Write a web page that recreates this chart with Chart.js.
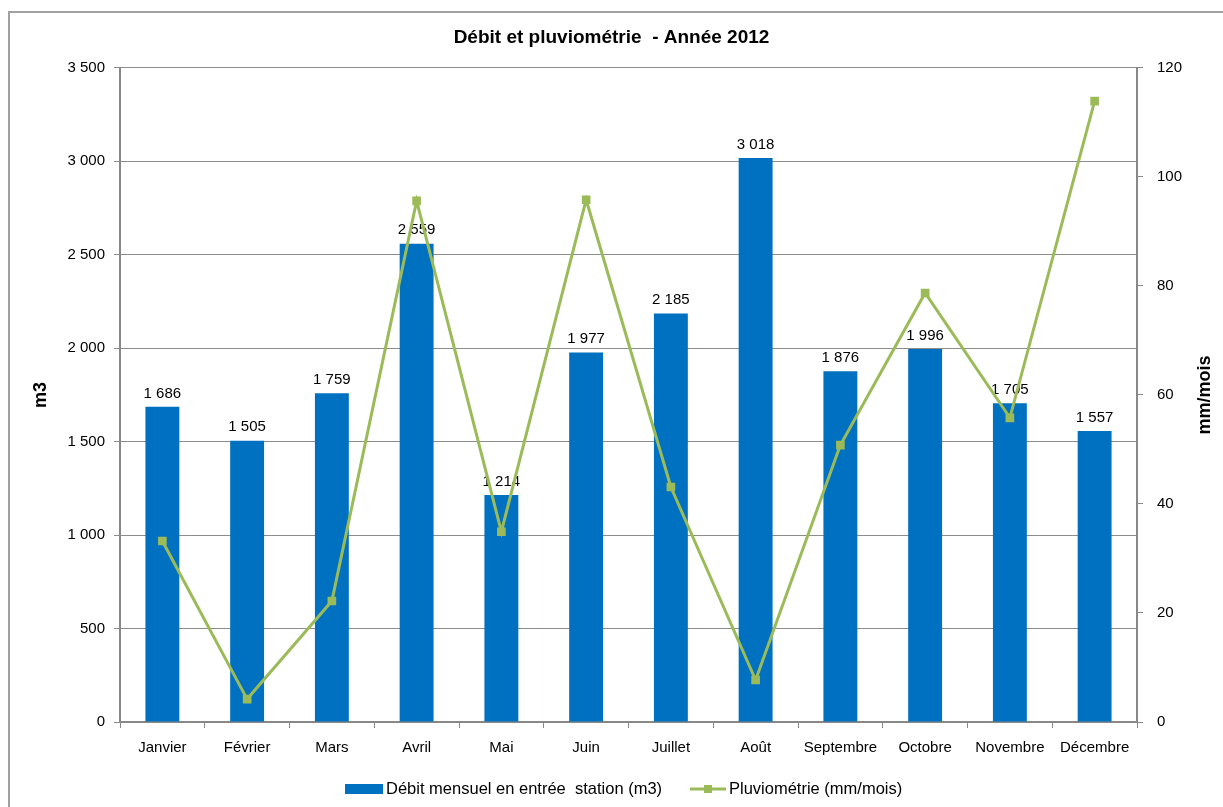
<!DOCTYPE html>
<html>
<head>
<meta charset="utf-8">
<script src="https://cdn.jsdelivr.net/npm/chart.js@4/dist/chart.umd.min.js"></script>
<style>
    body { margin: 0; background: #fff; }
    #wrap { position: absolute; left: 0; top: 0; width: 1223px; height: 807px; }
    #frame { position: absolute; left: 8px; top: 11px; width: 1230px; height: 820px; border-left: 2px solid #a0a0a0; border-top: 2px solid #a0a0a0; }
    canvas { position: absolute; left: 0; top: 0; }
</style>
</head>
<body>
<div id="wrap">
    <div id="frame"></div>
    <canvas id="chart" width="1223" height="807"></canvas>
</div>
<script>
const months = ["Janvier", "Février", "Mars", "Avril", "Mai", "Juin", "Juillet", "Août", "Septembre", "Octobre", "Novembre", "Décembre"];
const debit = [1686, 1505, 1759, 2559, 1214, 1977, 2185, 3018, 1876, 1996, 1705, 1557];
const pluvio = [33.2, 4.2, 22.2, 95.6, 34.9, 95.8, 43.1, 7.7, 50.8, 78.7, 55.8, 113.9];

const FONT = "'Liberation Sans', Arial, sans-serif";

function fmt(v) {
    return String(v).replace(/\B(?=(\d{3})+(?!\d))/g, " ");
}

// value labels above the bars
const barLabels = {
    id: "barLabels",
    afterDatasetDraw(chart, args) {
        if (args.index !== 0) return;
        const ctx = chart.ctx;
        ctx.save();
        ctx.font = "15px " + FONT;
        ctx.fillStyle = "#000";
        ctx.textAlign = "center";
        ctx.textBaseline = "bottom";
        args.meta.data.forEach((bar, i) => {
            ctx.fillText(fmt(debit[i]), bar.x, bar.y - 6);
        });
        ctx.restore();
    }
};

// axis titles + legend
const extras = {
    id: "extras",
    afterDraw(chart) {
        const ctx = chart.ctx;
        const area = chart.chartArea;
        const midY = (area.top + area.bottom) / 2;
        ctx.save();
        ctx.font = "bold 18px " + FONT;
        ctx.fillStyle = "#000";
        ctx.textAlign = "center";
        ctx.textBaseline = "middle";
        [[41, "m3"], [1205, "mm/mois"]].forEach(([x, t]) => {
            ctx.save();
            ctx.translate(x, midY);
            ctx.rotate(-Math.PI / 2);
            ctx.fillText(t, 0, 0);
            ctx.restore();
        });

        // legend
        const ly = 789;
        ctx.font = "16.5px " + FONT;
        ctx.textAlign = "left";
        ctx.fillStyle = "#0070C0";
        ctx.fillRect(345, ly - 5, 38, 10);
        ctx.fillStyle = "#000";
        ctx.fillText(chart.data.datasets[0].label, 386, ly);

        ctx.strokeStyle = "#9BBB59";
        ctx.lineWidth = 3;
        ctx.beginPath();
        ctx.moveTo(690, ly);
        ctx.lineTo(726, ly);
        ctx.stroke();
        ctx.fillStyle = "#9BBB59";
        ctx.fillRect(704, ly - 4, 8, 8);
        ctx.fillStyle = "#000";
        ctx.fillText(chart.data.datasets[1].label, 729, ly);
        ctx.restore();
    }
};

const ctx = document.getElementById("chart").getContext("2d");
new Chart(ctx, {
    type: "bar",
    data: {
        labels: months,
        datasets: [{
            type: "bar",
            label: "Débit mensuel en entrée  station (m3)",
            data: debit,
            backgroundColor: "#0070C0",
            yAxisID: "y",
            categoryPercentage: 1,
            barPercentage: 0.4,
            order: 1
        }, {
            type: "line",
            label: "Pluviométrie (mm/mois)",
            data: pluvio,
            borderColor: "#9BBB59",
            backgroundColor: "#9BBB59",
            borderWidth: 3,
            pointStyle: "rect",
            pointRadius: 4,
            pointHoverRadius: 4,
            tension: 0,
            yAxisID: "y1",
            order: 0
        }]
    },
    options: {
        responsive: false,
        animation: false,
        layout: { padding: { left: 0, right: 0, top: 0, bottom: 45 } },
        plugins: {
            legend: { display: false },
            tooltip: { enabled: false },
            title: {
                display: true,
                text: "Débit et pluviométrie  - Année 2012",
                color: "#000",
                font: { family: FONT, size: 19, weight: "bold", lineHeight: 1.2 },
                padding: { top: 26, bottom: 19 }
            }
        },
        scales: {
            x: {
                offset: true,
                grid: { display: true, drawOnChartArea: false, offset: true, color: "#888", tickLength: 6 },
                border: { color: "#888", width: 2 },
                ticks: { color: "#000", font: { family: FONT, size: 15 }, padding: 11, maxRotation: 0 },
                afterFit(scale) { scale.height = 40; }
            },
            y: {
                position: "left",
                min: 0,
                max: 3500,
                grid: { color: "#8c8c8c", tickLength: 6 },
                border: { color: "#888", width: 2 },
                ticks: {
                    stepSize: 500,
                    color: "#000",
                    font: { family: FONT, size: 15 },
                    padding: 9,
                    callback: v => fmt(v)
                },
                afterFit(scale) { scale.width = 120; }
            },
            y1: {
                position: "right",
                min: 0,
                max: 120,
                grid: { drawOnChartArea: false, color: "#888", tickLength: 6 },
                border: { color: "#888", width: 2 },
                ticks: { stepSize: 20, color: "#000", font: { family: FONT, size: 15 }, padding: 14 },
                afterFit(scale) { scale.width = 86; }
            }
        }
    },
    plugins: [barLabels, extras]
});
</script>
</body>
</html>
